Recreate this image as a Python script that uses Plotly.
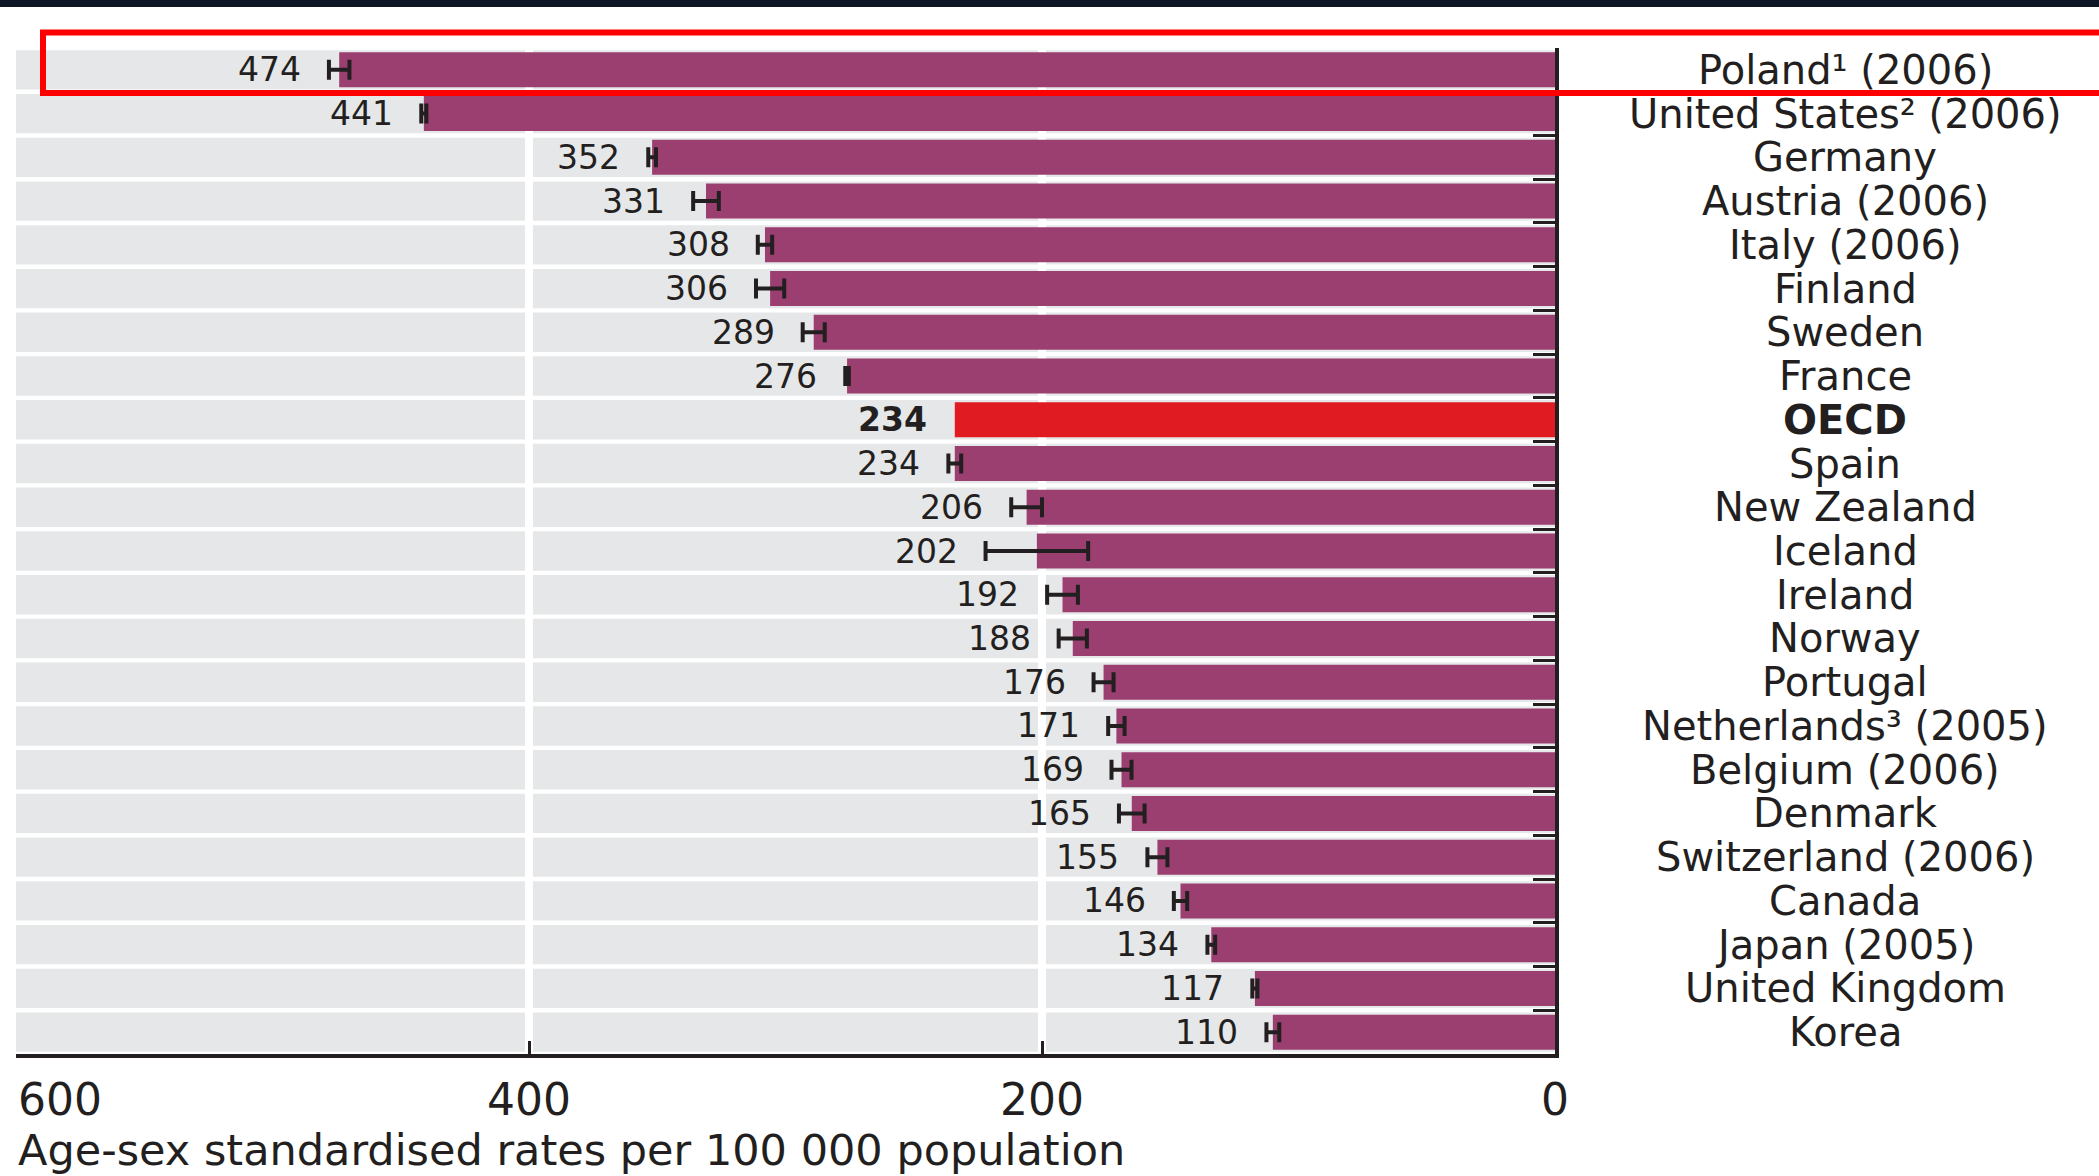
import plotly.graph_objects as go

# ---------------- data ----------------
countries = ["Poland¹ (2006)", "United States² (2006)", "Germany", "Austria (2006)",
             "Italy (2006)", "Finland", "Sweden", "France", "OECD", "Spain",
             "New Zealand", "Iceland", "Ireland", "Norway", "Portugal",
             "Netherlands³ (2005)", "Belgium (2006)", "Denmark", "Switzerland (2006)",
             "Canada", "Japan (2005)", "United Kingdom", "Korea"]
rates = [474, 441, 352, 331, 308, 306, 289, 276, 234, 234, 206, 202, 192, 188,
         176, 171, 169, 165, 155, 146, 134, 117, 110]
ci_half = [4, 1, 1.5, 5, 2.8, 5.5, 4.3, 0.7, 0, 2.5, 6, 20, 6, 5.5,
           3.9, 3.2, 3.9, 5, 3.9, 2.6, 1.5, 1, 2.5]
highlight = "OECD"
x_ticks = [600, 400, 200, 0]
x_tick_labels = ["600", "400", "200", "0"]
grid_vals = [400, 200]
x_title = "Age-sex standardised rates per 100 000 population"

# ---------------- style ----------------
PURPLE = "#9b3f70"
RED = "#e11b22"
GRAY = "#e6e7e8"
INK = "#231f20"
FONT = "DejaVu Sans"
W, H = 2099, 1176
ML, MR, MT, MB = 16, 544, 48, 122

n = len(countries)
main_idx = [i for i, c in enumerate(countries) if c != highlight]
hi_idx = [i for i, c in enumerate(countries) if c == highlight]

fig = go.Figure()
fig.add_trace(go.Bar(
    orientation="h",
    y=[countries[i] for i in main_idx],
    x=[rates[i] for i in main_idx],
    marker=dict(color=PURPLE, line=dict(width=0)),
    width=0.8,
    error_x=dict(type="data", array=[ci_half[i] for i in main_idx],
                 arrayminus=[ci_half[i] for i in main_idx], symmetric=False,
                 color=INK, thickness=4, width=10),
    showlegend=False, hoverinfo="x+y",
))
fig.add_trace(go.Bar(
    orientation="h",
    y=[countries[i] for i in hi_idx],
    x=[rates[i] for i in hi_idx],
    marker=dict(color=RED, line=dict(width=0)),
    width=0.8,
    showlegend=False, hoverinfo="x+y",
))

shapes = []
# gray row bands
for i in range(n):
    shapes.append(dict(type="rect", xref="x", yref="y", x0=x_ticks[0], x1=x_ticks[-1],
                       y0=i - 0.45, y1=i + 0.45, fillcolor=GRAY,
                       line=dict(width=0), layer="below"))

plot_h = H - MT - MB
plot_w = W - ML - MR
def py(px):  # pixel y (from top) -> paper
    return (H - MB - px) / plot_h
def pxx(px):  # pixel x -> paper
    return (px - ML) / plot_w

# highlight frame around first row
shapes.append(dict(type="rect", xref="paper", yref="paper",
                   x0=pxx(43), x1=pxx(2140), y0=py(93), y1=py(32.5),
                   line=dict(color="#ff0000", width=6), fillcolor="rgba(0,0,0,0)",
                   layer="above"))
# dark strip at top
shapes.append(dict(type="rect", xref="paper", yref="paper",
                   x0=pxx(-20), x1=pxx(2140), y0=py(7), y1=py(-10),
                   fillcolor="#0f1626", line=dict(width=0), layer="above"))

annotations = []
for c, v, e in zip(countries, rates, ci_half):
    bold = c == highlight
    annotations.append(dict(
        xref="x", yref="y", x=v + e, y=c, xanchor="right", yanchor="middle",
        xshift=-27, showarrow=False, borderpad=0,
        text=f"<b>{v}</b>" if bold else str(v),
        font=dict(family=FONT, size=33, color=INK)))
    annotations.append(dict(
        xref="paper", yref="y", x=pxx(1845), y=c, xanchor="center", yanchor="middle",
        showarrow=False, borderpad=0, text=f"<b>{c}</b>" if bold else c,
        font=dict(family=FONT, size=40, color=INK)))

for v, lab in zip(x_ticks, x_tick_labels):
    annotations.append(dict(
        xref="x", yref="paper", x=v, y=py(1099), xanchor="left" if v == x_ticks[0] else "center",
        yanchor="middle", showarrow=False, text=lab,
        font=dict(family=FONT, size=44, color=INK)))

annotations.append(dict(
    xref="paper", yref="paper", x=pxx(17), y=py(1150), xanchor="left", yanchor="middle",
    showarrow=False, borderpad=0, text=x_title, font=dict(family=FONT, size=43, color=INK)))

fig.update_layout(
    width=W, height=H,
    margin=dict(l=ML, r=MR, t=MT, b=MB, pad=0),
    paper_bgcolor="white", plot_bgcolor="white",
    barmode="overlay", bargap=0.2,
    font=dict(family=FONT, color=INK),
    shapes=shapes, annotations=annotations,
    xaxis=dict(range=[x_ticks[0], x_ticks[-1]], tickvals=x_ticks, showticklabels=False,
               ticks="inside", ticklen=13, tickwidth=3, tickcolor=INK,
               showline=True, linewidth=4, linecolor=INK,
               showgrid=False, zeroline=False,
               minor=dict(tickvals=grid_vals, showgrid=True, gridcolor="white",
                          gridwidth=8, ticks="")),
    yaxis=dict(type="category", categoryorder="array", categoryarray=countries,
               range=[n - 0.5, -0.5], side="right", showticklabels=False,
               ticks="inside", tickson="boundaries", ticklen=22, tickwidth=3,
               tickcolor=INK, showline=True, linewidth=4, linecolor=INK,
               showgrid=False, zeroline=False),
)

fig.write_html("out.html", config={"displayModeBar": False},
               post_script="document.body.style.margin='0';")
